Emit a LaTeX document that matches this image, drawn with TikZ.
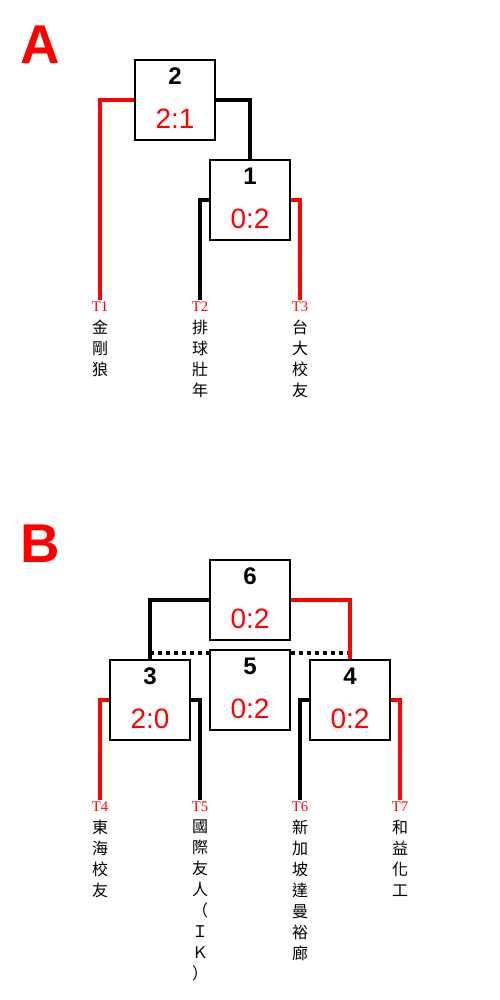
\documentclass[tikz,border=0pt]{standalone}
\usepackage{fontspec}
\setmainfont{Liberation Sans}
\newfontfamily\tagfont{Liberation Serif}
\newfontfamily\cjk{Noto Sans CJK TC}
\usetikzlibrary{positioning}

\tikzset{
  matchbox/.style={rectangle,draw=black,line width=1.5pt,minimum width=60pt,minimum height=60pt,inner sep=0pt},
  numtext/.style={inner sep=0pt,font=\fontsize{18}{20}\selectfont\bfseries},
  scoretext/.style={inner sep=0pt,text=red,font=\fontsize{21}{24}\selectfont},
  tag/.style={inner sep=1pt,text=red,font=\tagfont\fontsize{11}{13}\selectfont},
  teamname/.style={inner sep=0pt,align=center,font=\cjk\fontsize{12}{15.75}\selectfont},
  winline/.style={draw=red,line width=3pt},
  loseline/.style={draw=black,line width=3pt},
  dotline/.style={draw=black,line width=3pt,dash pattern=on 3pt off 3pt},
  grouplabel/.style={inner sep=0pt,text=red,font=\fontsize{41}{45}\selectfont\bfseries}
}

\begin{document}
\begin{tikzpicture}[x=0.75pt,y=-0.75pt]
\useasboundingbox (0,0) rectangle (500,1000);

% group A
\node[grouplabel] (gA) at (40,45) {A};

\node[matchbox] (m2) at (175,100) {};
\node[numtext, below = 6.5pt of m2.north] (n2) {2};
\node[scoretext, above = 9pt of m2.south] (s2) {2:1};

\node[matchbox] (m1) at (250,200) {};
\node[numtext, below = 6.5pt of m1.north] (n1) {1};
\node[scoretext, above = 9pt of m1.south] (s1) {0:2};

\node[tag, anchor=north] (t1) at (100,300) {T1};
\node[tag, anchor=north] (t2) at (200,300) {T2};
\node[tag, anchor=north] (t3) at (300,300) {T3};
\node[teamname, below = 5pt of t1] (name1) {金\\剛\\狼};
\node[teamname, below = 5pt of t2] (name2) {排\\球\\壯\\年};
\node[teamname, below = 5pt of t3] (name3) {台\\大\\校\\友};

\draw[winline] (m2.west) -| (t1.north);
\draw[loseline] (m2.east) -| (m1.north);
\draw[loseline] (m1.west) -| (t2.north);
\draw[winline] (m1.east) -| (t3.north);

% group B
\node[grouplabel] (gB) at (40,544) {B};

\node[matchbox] (m6) at (250,600) {};
\node[numtext, below = 6.5pt of m6.north] (n6) {6};
\node[scoretext, above = 9pt of m6.south] (s6) {0:2};

\node[matchbox] (m5) at (250,690) {};
\node[numtext, below = 6.5pt of m5.north] (n5) {5};
\node[scoretext, above = 9pt of m5.south] (s5) {0:2};

\node[matchbox] (m3) at (150,700) {};
\node[numtext, below = 6.5pt of m3.north] (n3) {3};
\node[scoretext, above = 9pt of m3.south] (s3) {2:0};

\node[matchbox] (m4) at (350,700) {};
\node[numtext, below = 6.5pt of m4.north] (n4) {4};
\node[scoretext, above = 9pt of m4.south] (s4) {0:2};

\node[tag, anchor=north] (t4) at (100,800) {T4};
\node[tag, anchor=north] (t5) at (200,800) {T5};
\node[tag, anchor=north] (t6) at (300,800) {T6};
\node[tag, anchor=north] (t7) at (400,800) {T7};
\node[teamname, below = 5pt of t4] (name4) {東\\海\\校\\友};
\node[teamname, below = 5pt of t5] (name5) {國\\際\\友\\人\\（\\Ｉ\\Ｋ\\）};
\node[teamname, below = 5pt of t6] (name6) {新\\加\\坡\\達\\曼\\裕\\廊};
\node[teamname, below = 5pt of t7] (name7) {和\\益\\化\\工};

\coordinate (d3) at ([yshift=4.5pt]m3.north);
\coordinate (d4) at ([yshift=4.5pt]m4.north);
\draw[dotline] (d3) -- (d3 -| m5.west);
\draw[dotline] (d4 -| m5.east) -- (d4);

\draw[loseline] (m6.west) -| (m3.north);
\draw[winline] (m6.east) -| (m4.north);
\draw[winline] (m3.west) -| (t4.north);
\draw[loseline] (m3.east) -| (t5.north);
\draw[loseline] (m4.west) -| (t6.north);
\draw[winline] (m4.east) -| (t7.north);

\end{tikzpicture}
\end{document}
